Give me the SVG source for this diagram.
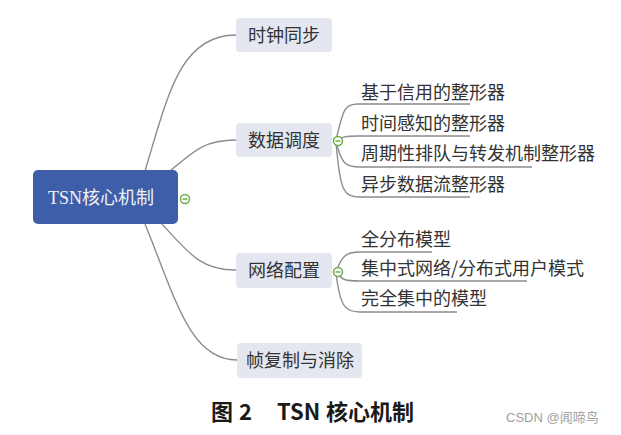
<svg xmlns="http://www.w3.org/2000/svg" width="621" height="435" viewBox="0 0 621 435">
<style>
.conn{fill:none;stroke:#8c8c8c;stroke-width:1.4}
.ul{fill:none;stroke:#8c8c8c;stroke-width:1.4}
.box{fill:#e4e7ef}
.t{font-family:"Noto Sans CJK SC","Noto Sans",sans-serif;font-size:18px;fill:#333}
.tog circle{fill:#fff;stroke:#6aaf4a;stroke-width:1.5}
.tog line{stroke:#6aaf4a;stroke-width:1.5}
</style>
<rect width="621" height="435" fill="#fff"/>
<g id="connectors">
<path class="conn" d="M145,171 C168,95 180,35 236,35"/>
<path class="conn" d="M170,171 C195,150 205,140 236,140"/>
<path class="conn" d="M162,224 C190,255 202,270 236,270"/>
<path class="conn" d="M145,224 C176,300 190,360 237,360"/>
<path class="ul" d="M336,140 C343,112 343,104 358,104 L470,104"/>
<path class="ul" d="M336,140 C342,137 346,136 358,136 L470,136"/>
<path class="ul" d="M336,142 C342,164 345,167 360,167 L532,167"/>
<path class="ul" d="M336,142 C340,190 343,197 360,197 L470,197"/>
<path class="ul" d="M336,271 C342,257 345,252 360,252 L432,252"/>
<path class="ul" d="M336,272 C342,280 345,281 360,281 L527,281"/>
<path class="ul" d="M336,273 C340,305 344,312 360,312 L457,312"/>
</g>
<g id="root">
<rect x="33" y="170" width="145" height="54" rx="5" fill="#3e5ea9"/>
<text x="101" y="204" text-anchor="middle" font-family="Liberation Serif,'Noto Sans CJK SC',serif" font-size="18" fill="#f2f2f2">TSN核心机制</text>
<g class="tog"><circle cx="185" cy="199" r="4.5"/><line x1="182.5" y1="199" x2="187.5" y2="199"/></g>
</g>
<g id="n-clock">
<rect class="box" x="236" y="18" width="96" height="34" rx="4"/>
<text class="t" x="248" y="42">时钟同步</text>
</g>
<g id="n-sched">
<rect class="box" x="236" y="123" width="96" height="34" rx="4"/>
<text class="t" x="248" y="147">数据调度</text>
<g class="tog"><circle cx="338" cy="141" r="4.5"/><line x1="335.5" y1="141" x2="340.5" y2="141"/></g>
</g>
<g id="s1"><text class="t" x="361" y="99">基于信用的整形器</text></g>
<g id="s2"><text class="t" x="361" y="130">时间感知的整形器</text></g>
<g id="s3"><text class="t" x="361" y="160">周期性排队与转发机制整形器</text></g>
<g id="s4"><text class="t" x="361" y="191">异步数据流整形器</text></g>
<g id="n-net">
<rect class="box" x="236" y="253" width="96" height="35" rx="4"/>
<text class="t" x="248" y="277">网络配置</text>
<g class="tog"><circle cx="338" cy="272" r="4.5"/><line x1="335.5" y1="272" x2="340.5" y2="272"/></g>
</g>
<g id="c1"><text class="t" x="361" y="246">全分布模型</text></g>
<g id="c2"><text class="t" x="361" y="275">集中式网络/分布式用户模式</text></g>
<g id="c3"><text class="t" x="361" y="305">完全集中的模型</text></g>
<g id="n-frer">
<rect class="box" x="237" y="343" width="125" height="35" rx="4"/>
<text class="t" x="246" y="367">帧复制与消除</text>
</g>
<g id="caption" font-family="'Noto Sans CJK SC','Noto Sans',sans-serif" font-size="22" font-weight="bold" fill="#1a1a1a">
<text x="211" y="420">图</text>
<text x="239" y="420">2</text>
<text x="277" y="420">TSN</text>
<text x="326" y="420">核心机制</text>
</g>
<text x="506" y="422" font-family="'Liberation Sans','Noto Sans CJK SC',sans-serif" font-size="13" fill="#a0a0a0">CSDN @闻啼鸟</text>
</svg>
